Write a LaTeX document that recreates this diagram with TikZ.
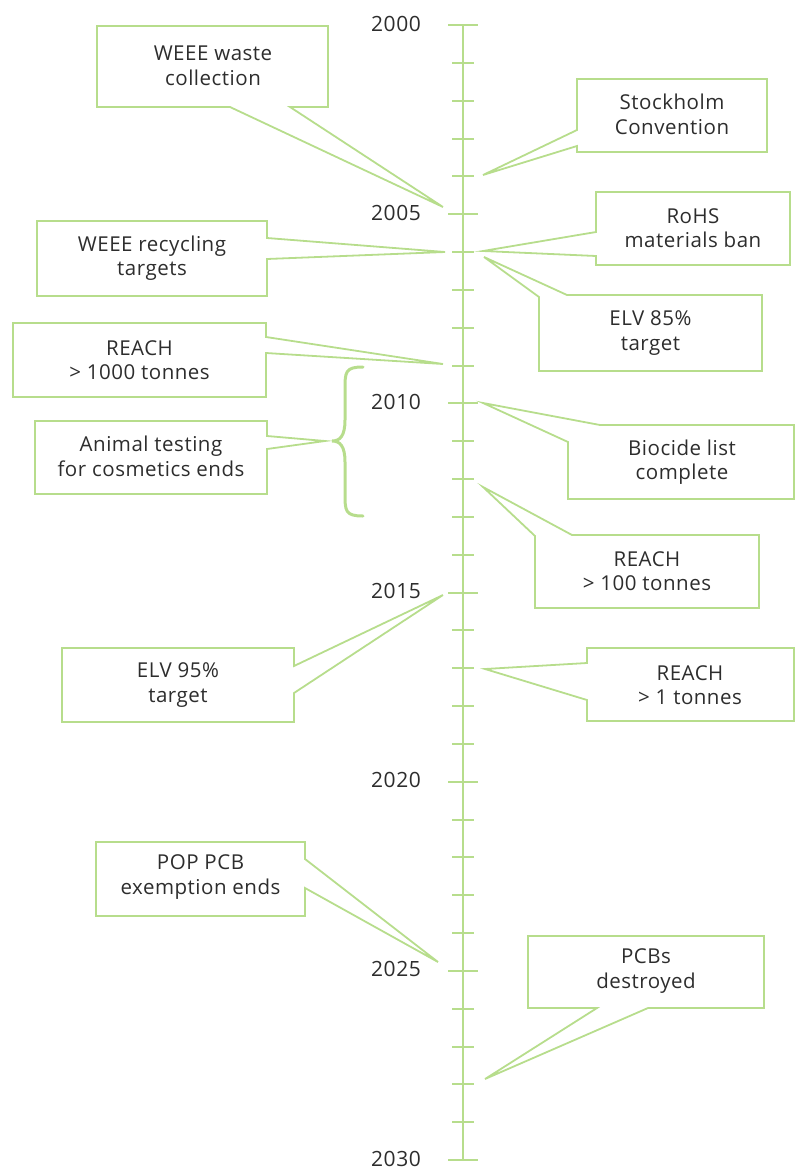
\documentclass[tikz,border=0pt]{standalone}
\usepackage{fontspec}
\setmainfont{Open Sans}[LetterSpace=2.5]
\definecolor{lgreen}{RGB}{183,221,140}
\definecolor{txt}{RGB}{45,45,45}
\tikzset{
  callout/.style={draw=lgreen, line width=1.8pt, line join=miter},
  lbl/.style={text=txt, align=center, font=\fontsize{20.5}{24.5}\selectfont, inner sep=0pt},
  yearlbl/.style={text=txt, anchor=east, font=\fontsize{21}{24}\selectfont, inner sep=0pt},
  axisline/.style={draw=lgreen, line width=2.7pt},
  ticklong/.style={draw=lgreen, line width=2pt},
  brace/.style={draw=lgreen, line width=3pt, line cap=round}
}
\begin{document}
\begin{tikzpicture}[x=1pt,y=-1pt]
\useasboundingbox (0,0) rectangle (795,1170);
% axis
\draw[axisline] (463,25) coordinate (axtop) -- (463,1160) coordinate (axbot);
\foreach \i in {0,...,30}{
  \pgfmathsetmacro{\yy}{25+\i*37.833}
  \pgfmathsetmacro{\ly}{\yy-1.5}
  \pgfmathtruncatemacro{\rr}{mod(\i,5)}
  \ifnum\rr=0
    \draw[ticklong] (448,\yy) -- (478,\yy);
    \pgfmathtruncatemacro{\yr}{2000+\i}
    \node[yearlbl] (y\yr) at (421,\ly) {\yr};
  \else
    \draw[ticklong] (452,\yy) -- (474,\yy);
  \fi
}
% 1 WEEE waste collection
\coordinate (t1) at (443,207);
\draw[callout] (97,26) -- (328,26) -- (328,107) -- (290,107) -- (t1) -- (230,107) -- (97,107) -- cycle;
\node[lbl] (n1) at (213,66) {WEEE waste\\collection};
% 2 Stockholm
\coordinate (t2) at (483,175);
\draw[callout] (577,79) -- (767,79) -- (767,152) -- (577,152) -- (577,146) -- (t2) -- (577,130) -- cycle;
\node[lbl] (n2) at (672,114.5) {Stockholm\\Convention};
% 3 WEEE recycling
\coordinate (t3) at (445,252);
\draw[callout] (37,221) -- (267,221) -- (267,238) -- (t3) -- (267,259) -- (267,296) -- (37,296) -- cycle;
\node[lbl] (n3) at (152,258) {WEEE recycling\\targets};
% 4 REACH > 1000
\coordinate (t4) at (443,364);
\draw[callout] (13,323) -- (266,323) -- (266,337) -- (t4) -- (266,353) -- (266,397) -- (13,397) -- cycle;
\node[lbl] (n4) at (139.5,360) {REACH\\> 1000 tonnes};
% 5 Animal testing
\coordinate (t5) at (325,441);
\draw[callout] (35,421) -- (267,421) -- (267,436) -- (t5) -- (267,449) -- (267,494) -- (35,494) -- cycle;
\node[lbl] (n5) at (151,456.5) {Animal testing\\for cosmetics ends};
% brace
\draw[brace] (363,367) .. controls (345,367) and (345,372) .. (345,390) -- (345,420)
  .. controls (345,436) and (340,441) .. (332,441)
  .. controls (340,441) and (345,446) .. (345,462) -- (345,493)
  .. controls (345,511) and (345,516) .. (363,516);
% 6 RoHS
\coordinate (t6) at (483,251);
\draw[callout] (596,192) -- (790,192) -- (790,265) -- (596,265) -- (596,256) -- (t6) -- (596,232) -- cycle;
\node[lbl] (n6) at (693,228) {RoHS\\materials ban};
% 7 ELV 85
\coordinate (t7) at (484,257);
\draw[callout] (567,295) -- (762,295) -- (762,371) -- (539,371) -- (539,297) -- (t7) -- cycle;
\node[lbl] (n7) at (650.5,333) {ELV 85\%\\target};
% 8 Biocide
\coordinate (t8) at (483,403);
\draw[callout] (600,425) -- (794,425) -- (794,499) -- (568,499) -- (568,442) -- (t8) -- cycle;
\node[lbl] (n8) at (682,462) {Biocide list\\complete};
% 9 REACH > 100
\coordinate (t9) at (483,487);
\draw[callout] (572,535) -- (759,535) -- (759,608) -- (535,608) -- (535,536) -- (t9) -- cycle;
\node[lbl] (n9) at (647,571) {REACH\\> 100 tonnes};
% 10 ELV 95
\coordinate (t10) at (443,595);
\draw[callout] (62,648) -- (294,648) -- (294,666) -- (t10) -- (294,693) -- (294,722) -- (62,722) -- cycle;
\node[lbl] (n10) at (178,685) {ELV 95\%\\target};
% 11 REACH > 1
\coordinate (t11) at (485,669);
\draw[callout] (587,648) -- (794,648) -- (794,721) -- (587,721) -- (587,700) -- (t11) -- (587,663) -- cycle;
\node[lbl] (n11) at (690,685) {REACH\\> 1 tonnes};
% 12 POP PCB
\coordinate (t12) at (438,962);
\draw[callout] (96,842) -- (305,842) -- (305,859) -- (t12) -- (305,888) -- (305,916) -- (96,916) -- cycle;
\node[lbl] (n12) at (200.5,877) {POP PCB\\exemption ends};
% 13 PCBs destroyed
\coordinate (t13) at (485,1079);
\draw[callout] (528,936) -- (764,936) -- (764,1008) -- (648,1008) -- (t13) -- (597,1008) -- (528,1008) -- cycle;
\node[lbl] (n13) at (646,971) {PCBs\\destroyed};
\end{tikzpicture}
\end{document}
